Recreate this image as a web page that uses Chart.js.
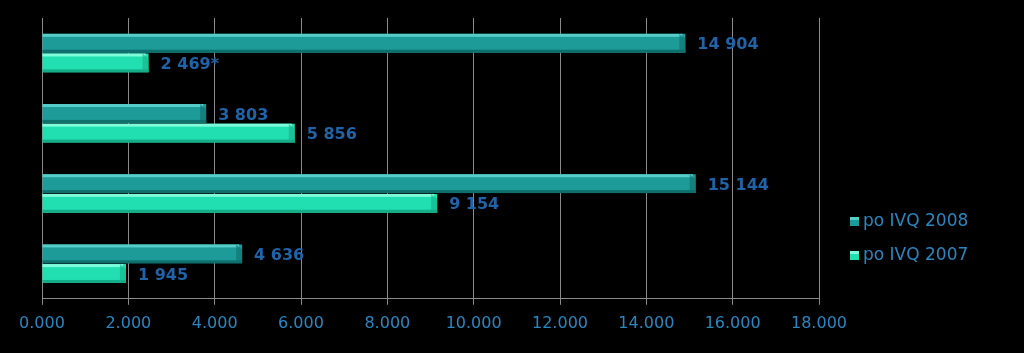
<!DOCTYPE html>
<html><head><meta charset="utf-8">
<script src="https://cdn.jsdelivr.net/npm/chart.js@4/dist/chart.umd.min.js"></script>
<style>html,body{margin:0;padding:0;background:#000;}#wrap{width:1024px;height:353px;position:relative;}</style>
</head><body><div id="wrap"><canvas id="c" width="1024" height="353"></canvas></div>
<script>
const categories = ['1', '2', '3', '4'];
const series2008 = [14904, 3803, 15144, 4636];
const series2007 = [2469, 5856, 9154, 1945];
const suffix2008 = ['', '', '', ''];
const suffix2007 = ['*', '', '', ''];
const seriesNames = ['po IVQ 2008', 'po IVQ 2007'];
const tickValues = [0, 2000, 4000, 6000, 8000, 10000, 12000, 14000, 16000, 18000];
const tickLabels = ['0.000', '2.000', '4.000', '6.000', '8.000', '10.000', '12.000', '14.000', '16.000', '18.000'];

const palette = [
  {main:'#1c9b99', light:'#56cdc9', dark:'#0f6f6d'},
  {main:'#22dfb2', light:'#7dfbda', dark:'#15ad88'}
];
const suffixes = [suffix2008, suffix2007];

function fmt(v){ return String(v).replace(/\B(?=(\d{3})+(?!\d))/g, ' '); }

const bevelPlugin = {
  id:'bevel',
  afterDatasetsDraw(chart){
    const ctx = chart.ctx;
    chart.data.datasets.forEach((ds, di) => {
      const meta = chart.getDatasetMeta(di);
      const p = palette[di];
      meta.data.forEach((el) => {
        const x0 = el.base, x1 = el.x, h = el.height, yt = el.y - h/2, yb = el.y + h/2;
        ctx.save();
        ctx.fillStyle = p.light;
        ctx.fillRect(x0, yt, x1 - x0 - 3, 3);
        ctx.fillStyle = p.dark;
        ctx.fillRect(x0, yb - 3, x1 - x0, 3);
        ctx.beginPath();
        ctx.moveTo(x1 - 6, yt); ctx.lineTo(x1, yt + 5); ctx.lineTo(x1, yb); ctx.lineTo(x1 - 6, yb - 3); ctx.closePath();
        ctx.fillStyle = p.dark; ctx.globalAlpha = 0.6; ctx.fill();
        ctx.restore();
      });
    });
  }
};

const labelPlugin = {
  id:'vlabels',
  afterDatasetsDraw(chart){
    const ctx = chart.ctx;
    ctx.save();
    ctx.font = 'bold 16px "DejaVu Sans", Verdana, sans-serif';
    ctx.fillStyle = '#1f63a8';
    ctx.textBaseline = 'middle';
    ctx.textAlign = 'left';
    chart.data.datasets.forEach((ds, di) => {
      const meta = chart.getDatasetMeta(di);
      meta.data.forEach((el, i) => {
        ctx.fillText(fmt(ds.data[i]) + suffixes[di][i], el.x + 12, el.y + 2);
      });
    });
    ctx.restore();
  }
};

const legendPlugin = {
  id:'mylegend',
  afterDraw(chart){
    const ctx = chart.ctx;
    ctx.save();
    ctx.font = '17px "DejaVu Sans", Verdana, sans-serif';
    ctx.textBaseline = 'middle';
    seriesNames.forEach((n, i) => {
      const y = 222 + i * 34;
      const x = 850;
      const p = palette[i];
      ctx.fillStyle = p.main; ctx.fillRect(x, y - 5, 9, 9);
      ctx.fillStyle = p.light; ctx.fillRect(x, y - 5, 9, 3);
      ctx.fillStyle = '#2a86c0';
      ctx.fillText(n, x + 13, y);
    });
    ctx.restore();
  }
};

new Chart(document.getElementById('c'), {
  type:'bar',
  data:{
    labels: categories,
    datasets:[
      {label: seriesNames[0], data: series2008, backgroundColor: palette[0].main, categoryPercentage:0.56, barPercentage:0.96},
      {label: seriesNames[1], data: series2007, backgroundColor: palette[1].main, categoryPercentage:0.56, barPercentage:0.96}
    ]
  },
  options:{
    indexAxis:'y',
    responsive:false,
    animation:false,
    devicePixelRatio:1,
    layout:{padding:{left:42, right:205, top:18, bottom:11}},
    plugins:{legend:{display:false}, tooltip:{enabled:false}},
    scales:{
      x:{
        min:0, max:18000,
        afterBuildTicks(axis){ axis.ticks = tickValues.map(v => ({value:v})); },
        ticks:{
          callback:(v) => tickLabels[tickValues.indexOf(v)],
          color:'#2a86c0',
          font:{family:'"DejaVu Sans", Verdana, sans-serif', size:16},
          padding:9, maxRotation:0, autoSkip:false
        },
        grid:{color:'#8a8a8a', lineWidth:1, tickLength:6, drawTicks:true},
        border:{color:'#8a8a8a', width:1}
      },
      y:{
        ticks:{display:false},
        grid:{display:false, drawTicks:false},
        border:{display:true, color:'#8a8a8a', width:1}
      }
    }
  },
  plugins:[bevelPlugin, labelPlugin, legendPlugin]
});
</script></body></html>
